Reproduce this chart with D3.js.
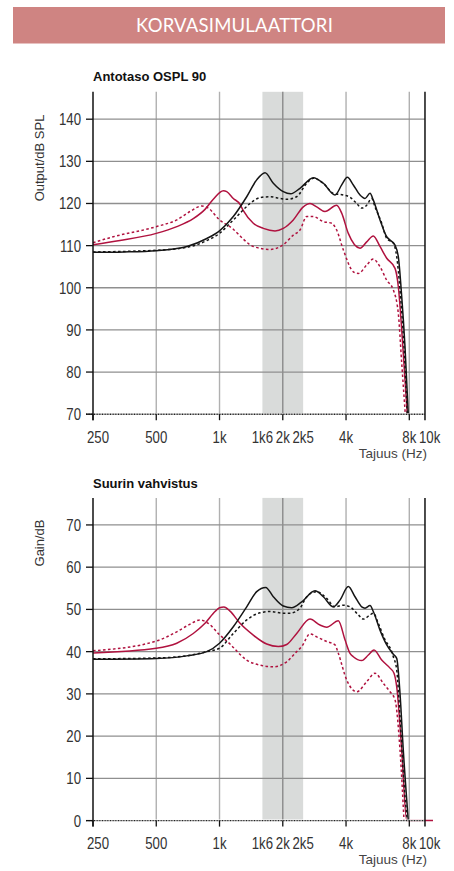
<!DOCTYPE html>
<html>
<head>
<meta charset="utf-8">
<script src="https://cdn.jsdelivr.net/npm/d3@7/dist/d3.min.js"></script>
<style>
  html, body { margin: 0; padding: 0; background: #ffffff; }
  svg { display: block; }
</style>
</head>
<body>
<svg id="chart" width="454" height="871"></svg>
<script>
// ---------- DATA ----------
const headerTitle = "KORVASIMULAATTORI";
const chartTitles = ["Antotaso OSPL 90", "Suurin vahvistus"];
const yAxisTitles = ["Output/dB SPL", "Gain/dB"];
const xAxisTitle = "Tajuus (Hz)";

const xTickValues = [250, 500, 1000, 1600, 2000, 2500, 4000, 8000, 10000];
const xTickLabels = ["250", "500", "1k", "1k6", "2k", "2k5", "4k", "8k", "10k"];
const xTickMarks = [250, 500, 1000, 2000, 4000, 8000];
const xGridValues = [500, 1000, 2000, 4000, 8000];
const bandRange = [1600, 2500];
const freqMin = 250, freqMaxLabel = 10000, freqMaxPlot = 9500;

const ospTicks = [70, 80, 90, 100, 110, 120, 130, 140];
const ospDomain = [70, 146.5];
const gainTicks = [0, 10, 20, 30, 40, 50, 60, 70];
const gainDomain = [0, 76.4];

// Antotaso OSPL 90 — [Hz, dB SPL]
const ospBlackSolid = [[250,108.4],[350,108.5],[500,108.8],[700,109.8],[870,111.7],[1000,113.5],[1163,116.9],[1347,121.6],[1503,125.6],[1646,127.3],[1803,124.8],[2011,122.8],[2181,122.3],[2415,123.6],[2795,126.1],[3118,124.8],[3545,122.0],[3814,124.4],[4057,126.2],[4332,124.4],[4662,122.0],[4925,121.2],[5202,122.4],[5393,120.8],[5803,116.1],[6247,112.1],[6475,111.3],[6841,110.1],[7092,107.4],[7362,97.9],[7632,86.0],[7912,70]];
const ospBlackDashed = [[250,108.5],[500,108.9],[700,109.6],[870,111.2],[1000,112.9],[1122,115.3],[1252,117.7],[1397,120.0],[1558,121.4],[1739,121.6],[1940,121.2],[2088,121.0],[2329,121.6],[2600,124.8],[2795,126.0],[3118,124.8],[3479,122.4],[3882,122.0],[4178,121.5],[4497,120.0],[4750,118.9],[5017,119.6],[5299,121.2],[5494,119.2],[5913,115.3],[6247,111.7],[6714,110.6],[6969,107.4],[7226,99.5],[7548,86.0],[7826,70]];
const ospRedSolid = [[250,110.2],[336,111.2],[500,112.9],[626,114.5],[750,116.4],[853,118.6],[934,121.0],[1043,123.0],[1082,122.8],[1163,121.2],[1252,119.8],[1298,118.3],[1448,115.3],[1616,114.1],[1837,113.5],[2011,114.1],[2244,116.1],[2504,119.2],[2695,120.0],[2900,119.2],[3175,118.1],[3610,119.6],[3814,117.7],[4101,112.9],[4662,109.4],[5017,110.9],[5393,112.3],[5803,109.8],[6247,107.0],[6841,104.6],[7092,100.3],[7362,90.0],[7632,78.1],[7826,70]];
const ospRedDashed = [[250,110.7],[312,112.1],[500,114.5],[626,116.1],[724,118.1],[823,119.4],[884,118.9],[1000,116.1],[1163,113.9],[1252,112.3],[1448,109.8],[1739,109.1],[2011,110.2],[2244,112.5],[2415,113.7],[2600,116.9],[2795,116.9],[3118,115.7],[3418,115.3],[3610,113.7],[3882,109.0],[4332,103.8],[4576,103.4],[5017,105.4],[5393,106.8],[5803,105.0],[6247,101.8],[6714,99.5],[7092,93.9],[7362,82.1],[7657,70]];

// Suurin vahvistus — [Hz, dB gain]
const gainBlackSolid = [[250,38.2],[500,38.4],[698,39.0],[869,40.0],[1000,42.0],[1163,45.9],[1347,50.6],[1503,54.2],[1659,55.2],[1803,53.0],[2011,50.8],[2205,50.4],[2461,51.8],[2847,54.4],[3118,53.0],[3479,50.6],[3743,52.2],[4101,55.4],[4413,53.0],[4750,50.6],[4925,50.3],[5202,50.9],[5393,49.5],[5803,45.1],[6247,41.6],[6714,39.4],[6969,38.4],[7226,30.1],[7490,16.7],[7912,0]];
const gainBlackDashed = [[250,38.3],[500,38.5],[698,39.0],[869,40.0],[1000,40.8],[1163,44.3],[1347,47.5],[1558,49.2],[1739,49.5],[2011,49.1],[2165,49.1],[2415,50.3],[2600,53.0],[2900,54.2],[3236,52.6],[3545,50.6],[3882,51.0],[4178,50.6],[4576,48.7],[4833,47.7],[5202,48.7],[5393,49.1],[5696,46.7],[6131,42.8],[6597,40.0],[6714,38.8],[6969,35.7],[7226,24.6],[7548,8.8],[7826,0]];
const gainRedSolid = [[250,39.7],[500,40.8],[626,42.0],[750,44.3],[853,46.7],[952,49.5],[1000,50.4],[1050,50.6],[1122,49.6],[1252,46.7],[1448,43.9],[1677,41.8],[1904,41.2],[2088,41.7],[2329,44.3],[2695,47.7],[3007,46.3],[3236,45.8],[3676,47.3],[3955,42.8],[4178,39.6],[4332,38.8],[4750,37.9],[5106,39.2],[5434,40.4],[5913,38.0],[6475,36.1],[6765,34.9],[6969,31.7],[7362,16.7],[7775,0],[10375,0]];
const gainRedDashed = [[250,40.2],[500,42.5],[626,44.7],[724,46.5],[807,47.5],[884,46.7],[1000,44.0],[1122,41.8],[1163,41.0],[1347,38.0],[1558,36.8],[1803,36.4],[2088,37.6],[2329,40.0],[2461,41.2],[2695,44.2],[2900,43.5],[3236,42.4],[3545,41.6],[3676,39.6],[4028,33.3],[4497,30.5],[5017,32.9],[5494,34.9],[6018,32.5],[6475,30.5],[6841,28.6],[7226,16.7],[7548,0]];

// ---------- STYLE ----------
const COL_BLACK = "#151515";
const COL_RED = "#b0123f";
const COL_BAND = "#d9dbda";
const COL_HGRID = "#8f8f8f";
const COL_VGRID = "#b0b0b0";
const COL_TEXT = "#333333";
const SANS = "'Liberation Sans', Arial, Helvetica, sans-serif";
const NARROW_SCALE = 0.8;

const svg = d3.select("#chart");

// header banner
svg.append("rect").attr("x", 13).attr("y", 7).attr("width", 432).attr("height", 36.5).attr("fill", "#cf8482");
svg.append("text").attr("x", 234.5).attr("y", 32).attr("text-anchor", "middle")
  .attr("fill", "#ffffff").attr("font-family", "Lato, 'Open Sans', sans-serif").attr("font-size", 18.5)
  .attr("letter-spacing", 0.2).text(headerTitle);

const plotLeft = 93;
const octavePx = 63.26;
const x = d3.scaleLog().domain([freqMin, freqMaxLabel])
  .range([plotLeft, plotLeft + octavePx * Math.log2(freqMaxLabel / freqMin)]);
const plotRight = x(freqMaxPlot);

function narrowText(sel) {
  return sel.attr("font-family", SANS).attr("font-size", 16.5).attr("fill", COL_TEXT);
}

function drawChart(cfg) {
  const y = d3.scaleLinear().domain(cfg.domain).range([cfg.bottom, cfg.top]);
  const g = svg.append("g");
  const yB = y(cfg.domain[0]), yT = y(cfg.domain[1]);

  // title
  g.append("text").attr("x", plotLeft).attr("y", cfg.titleY)
    .attr("font-family", SANS).attr("font-weight", "bold").attr("font-size", 13)
    .attr("fill", "#111").text(cfg.title);

  // band
  g.append("rect").attr("x", x(bandRange[0])).attr("y", yT)
    .attr("width", x(bandRange[1]) - x(bandRange[0])).attr("height", yB - yT)
    .attr("fill", COL_BAND);

  // vertical grid
  g.selectAll(".vg").data(xGridValues).enter().append("line")
    .attr("x1", d => x(d)).attr("x2", d => x(d)).attr("y1", yT).attr("y2", yB)
    .attr("stroke", d => (d >= bandRange[0] && d <= bandRange[1]) ? "#8a8a8a" : COL_VGRID)
    .attr("stroke-width", 1.4);

  // horizontal grid
  g.selectAll(".hg").data(cfg.ticks.slice(1)).enter().append("line")
    .attr("x1", plotLeft).attr("x2", plotRight).attr("y1", d => y(d)).attr("y2", d => y(d))
    .attr("stroke", COL_HGRID).attr("stroke-width", 1.3);

  // curves
  const line = d3.line().x(d => x(d[0])).y(d => y(d[1])).curve(d3.curveMonotoneX);
  cfg.series.forEach(s => {
    g.append("path").attr("d", line(s.data)).attr("fill", "none")
      .attr("stroke", s.color).attr("stroke-width", 1.5)
      .attr("stroke-dasharray", s.dashed ? "2.6,2.4" : null)
      .attr("stroke-linejoin", "round");
  });

  // bottom axis line (dotted look) over curves
  g.append("line").attr("x1", plotLeft - 7).attr("x2", plotRight).attr("y1", yB).attr("y2", yB)
    .attr("stroke", "#ffffff").attr("stroke-width", 2);
  g.append("line").attr("x1", plotLeft - 7).attr("x2", plotRight).attr("y1", yB).attr("y2", yB)
    .attr("stroke", "#222").attr("stroke-width", 1.4).attr("stroke-dasharray", "1,0.6");

  // left axis
  g.append("line").attr("x1", plotLeft).attr("x2", plotLeft).attr("y1", yT).attr("y2", yB + 6)
    .attr("stroke", "#111").attr("stroke-width", 1.5);
  // right border
  g.append("line").attr("x1", plotRight).attr("x2", plotRight).attr("y1", yT).attr("y2", yB + 6)
    .attr("stroke", "#111").attr("stroke-width", 1.5);

  // y ticks
  g.selectAll(".yt").data(cfg.ticks).enter().append("line")
    .attr("x1", plotLeft - 7).attr("x2", plotLeft).attr("y1", d => y(d)).attr("y2", d => y(d))
    .attr("stroke", "#111").attr("stroke-width", 1.3);
  narrowText(g.selectAll(".yl").data(cfg.ticks).enter().append("text")
    .attr("transform", d => `translate(${plotLeft - 12},${y(d)}) scale(${NARROW_SCALE},1)`)
    .attr("dy", "0.36em").attr("text-anchor", "end")
    .text(d => d));

  // x ticks
  g.selectAll(".xt").data(xTickMarks).enter().append("line")
    .attr("x1", d => x(d)).attr("x2", d => x(d)).attr("y1", yB).attr("y2", yB + 6)
    .attr("stroke", "#111").attr("stroke-width", 1.3);
  narrowText(g.selectAll(".xl").data(xTickValues).enter().append("text")
    .attr("transform", (d, i) => `translate(${i === 0 ? x(d) - 6 : x(d)},${yB + cfg.xLabelOffset}) scale(${NARROW_SCALE},1)`)
    .attr("text-anchor", (d, i) => i === 0 ? "start" : "middle")
    .text((d, i) => xTickLabels[i]));

  // x axis title
  g.append("text").attr("x", plotRight + 2).attr("y", yB + cfg.xLabelOffset + 15)
    .attr("text-anchor", "end").attr("font-family", SANS).attr("font-size", 13.5)
    .attr("fill", "#444").text(xAxisTitle);

  // y axis title
  g.append("text").attr("transform", `translate(44,${cfg.yTitleMid}) rotate(-90)`)
    .attr("text-anchor", "middle").attr("font-family", SANS).attr("font-size", 13)
    .attr("fill", COL_TEXT).text(cfg.yTitle);
}

drawChart({
  title: chartTitles[0], titleY: 81, yTitle: yAxisTitles[0], yTitleMid: 158,
  domain: ospDomain, bottom: 414.2, top: 91.8, ticks: ospTicks, xLabelOffset: 29,
  series: [
    { data: ospRedDashed, color: COL_RED, dashed: true },
    { data: ospRedSolid, color: COL_RED, dashed: false },
    { data: ospBlackDashed, color: COL_BLACK, dashed: true },
    { data: ospBlackSolid, color: COL_BLACK, dashed: false }
  ]
});

drawChart({
  title: chartTitles[1], titleY: 487.5, yTitle: yAxisTitles[1], yTitleMid: 543,
  domain: gainDomain, bottom: 820.6, top: 497.9, ticks: gainTicks, xLabelOffset: 28,
  series: [
    { data: gainRedDashed, color: COL_RED, dashed: true },
    { data: gainRedSolid, color: COL_RED, dashed: false },
    { data: gainBlackDashed, color: COL_BLACK, dashed: true },
    { data: gainBlackSolid, color: COL_BLACK, dashed: false }
  ]
});
</script>
</body>
</html>
